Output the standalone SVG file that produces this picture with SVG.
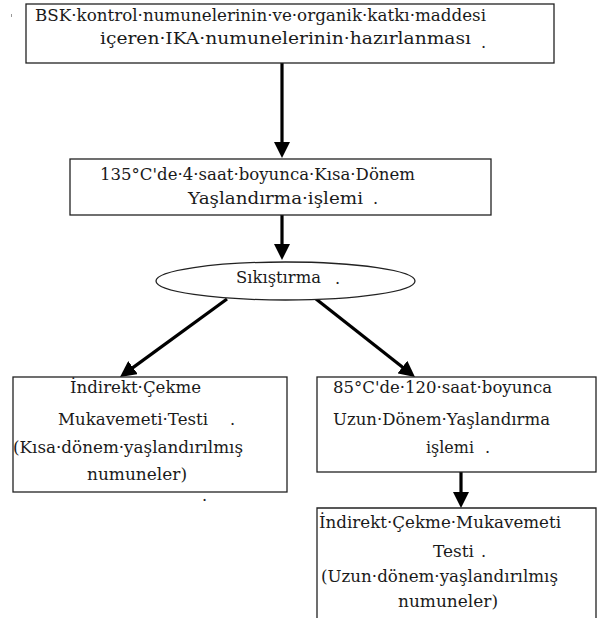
<svg xmlns="http://www.w3.org/2000/svg" width="598" height="627" viewBox="0 0 598 627">
<style>
.box{fill:#fff;stroke:#222;stroke-width:1.3}
.t{font-family:"DejaVu Serif","Liberation Serif",serif;font-size:16px;fill:#1a1a1a}
.c{stroke:#000;stroke-width:3.2;fill:none}
</style>
<defs>
<marker id="ah" viewBox="0 0 16 16" refX="6" refY="8" markerWidth="16" markerHeight="16" markerUnits="userSpaceOnUse" orient="auto">
<path d="M0,0 L16,8 L0,16 z" fill="#000"/>
</marker>
</defs>
<rect x="11" y="14" width="1" height="3" fill="#999"/>
<g id="connectors">
<line class="c" x1="282" y1="63" x2="282" y2="148" marker-end="url(#ah)"/>
<line class="c" x1="282" y1="215" x2="282" y2="250" marker-end="url(#ah)"/>
<line class="c" x1="227" y1="299" x2="128.1" y2="371.1" marker-end="url(#ah)"/>
<line class="c" x1="316" y1="299" x2="407.1" y2="370.8" marker-end="url(#ah)"/>
<line class="c" x1="461" y1="472" x2="461" y2="498" marker-end="url(#ah)"/>
</g>
<g id="n1">
<rect class="box" x="26" y="4" width="528" height="59"/>
<text class="t" x="35" y="21" textLength="451" lengthAdjust="spacingAndGlyphs">BSK·kontrol·numunelerinin·ve·organik·katkı·maddesi</text>
<text class="t" x="100" y="44" textLength="371" lengthAdjust="spacingAndGlyphs">içeren·IKA·numunelerinin·hazırlanması</text>
<text class="t" x="481" y="48">.</text>
</g>
<g id="n2">
<rect class="box" x="70" y="159" width="421" height="56"/>
<text class="t" x="100" y="180" textLength="315" lengthAdjust="spacingAndGlyphs">135°C'de·4·saat·boyunca·Kısa·Dönem</text>
<text class="t" x="188" y="204" textLength="175" lengthAdjust="spacingAndGlyphs">Yaşlandırma·işlemi</text>
<text class="t" x="373" y="204">.</text>
</g>
<g id="n3">
<ellipse class="box" cx="285.5" cy="281" rx="129.5" ry="19"/>
<text class="t" x="236" y="283" textLength="85" lengthAdjust="spacingAndGlyphs">Sıkıştırma</text>
<text class="t" x="335" y="284">.</text>
</g>
<g id="n4">
<rect class="box" x="13" y="377" width="274" height="115"/>
<text class="t" x="70" y="393" textLength="131" lengthAdjust="spacingAndGlyphs">İndirekt·Çekme</text>
<text class="t" x="58" y="425" textLength="150" lengthAdjust="spacingAndGlyphs">Mukavemeti·Testi</text>
<text class="t" x="230" y="425">.</text>
<text class="t" x="13" y="453" textLength="230" lengthAdjust="spacingAndGlyphs">(Kısa·dönem·yaşlandırılmış</text>
<text class="t" x="87" y="480" textLength="100" lengthAdjust="spacingAndGlyphs">numuneler)</text>
<text class="t" x="202" y="501">.</text>
</g>
<g id="n5">
<rect class="box" x="317" y="377" width="279" height="95"/>
<text class="t" x="333" y="393" textLength="219" lengthAdjust="spacingAndGlyphs">85°C'de·120·saat·boyunca</text>
<text class="t" x="333" y="425" textLength="217" lengthAdjust="spacingAndGlyphs">Uzun·Dönem·Yaşlandırma</text>
<text class="t" x="426" y="453" textLength="48" lengthAdjust="spacingAndGlyphs">işlemi</text>
<text class="t" x="485" y="453">.</text>
</g>
<g id="n6">
<path class="box" d="M317,618 L317,508 L596,508 L596,618"/>
<text class="t" x="319" y="528" textLength="242" lengthAdjust="spacingAndGlyphs">İndirekt·Çekme·Mukavemeti</text>
<text class="t" x="433" y="557" textLength="41" lengthAdjust="spacingAndGlyphs">Testi</text>
<text class="t" x="481" y="557">.</text>
<text class="t" x="321" y="582" textLength="237" lengthAdjust="spacingAndGlyphs">(Uzun·dönem·yaşlandırılmış</text>
<text class="t" x="398" y="607" textLength="100" lengthAdjust="spacingAndGlyphs">numuneler)</text>
</g>
</svg>
